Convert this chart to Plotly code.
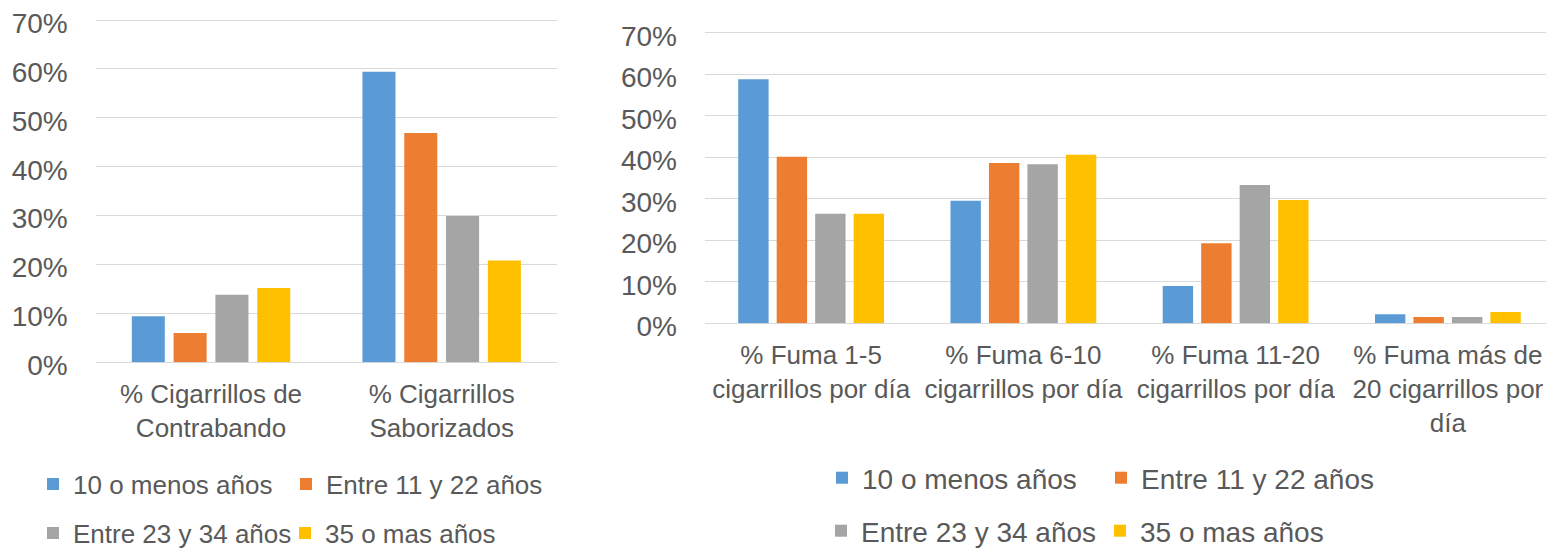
import plotly.graph_objects as go

# ---- data ----
series_names = ["10 o menos años", "Entre 11 y 22 años", "Entre 23 y 34 años", "35 o mas años"]
colors = ["#5B9BD5", "#ED7D31", "#A5A5A5", "#FFC000"]

left_categories = ["% Cigarrillos de<br>Contrabando", "% Cigarrillos<br>Saborizados"]
left_10_menos = [0.094, 0.594]
left_11_22 = [0.060, 0.469]
left_23_34 = [0.138, 0.299]
left_35_mas = [0.152, 0.208]

right_categories = [
    "% Fuma 1-5<br>cigarrillos por día",
    "% Fuma 6-10<br>cigarrillos por día",
    "% Fuma 11-20<br>cigarrillos por día",
    "% Fuma más de<br>20 cigarrillos por<br>día",
]
right_10_menos = [0.588, 0.295, 0.090, 0.022]
right_11_22 = [0.401, 0.386, 0.193, 0.015]
right_23_34 = [0.264, 0.383, 0.333, 0.015]
right_35_mas = [0.264, 0.406, 0.297, 0.027]

left_values = [left_10_menos, left_11_22, left_23_34, left_35_mas]
right_values = [right_10_menos, right_11_22, right_23_34, right_35_mas]

# page body has an 8px margin: figure is drawn 8px right/down of the window origin
OFF = 8
W, H = 1554 - OFF, 553 - OFF
FONT = "Arial, 'Liberation Sans', sans-serif"
TXT = "#595959"
GRID = "#D9D9D9"
YMAX = 0.7
YTOP = 0.704  # slight headroom so the 70% gridline is drawn

def px_x(v):
    return (v - OFF) / W

def px_y(v):
    return (H - (v - OFF)) / H

def y_domain(y0_px, y70_px):
    top_px = y0_px - (y0_px - y70_px) * YTOP / YMAX
    return [px_y(y0_px), px_y(top_px)]

fig = go.Figure()
left_legends = ["legend", "legend2", "legend3", "legend4"]
right_legends = ["legend5", "legend6", "legend7", "legend8"]
for i, name in enumerate(series_names):
    fig.add_trace(go.Bar(x=left_categories, y=left_values[i], name=name,
                         marker=dict(color=colors[i], line=dict(width=0)),
                         xaxis="x", yaxis="y", legend=left_legends[i]))
for i, name in enumerate(series_names):
    fig.add_trace(go.Bar(x=right_categories, y=right_values[i], name=name,
                         marker=dict(color=colors[i], line=dict(width=0)),
                         xaxis="x2", yaxis="y2", legend=right_legends[i]))

yax = dict(range=[0, YTOP], tickvals=[0, 0.1, 0.2, 0.3, 0.4, 0.5, 0.6, 0.7],
           tickformat=".0%", showgrid=True, ticklabeloverflow="allow",
           gridcolor=GRID, gridwidth=1.3, zeroline=True, zerolinecolor=GRID,
           zerolinewidth=1.3, showline=False, ticks="", automargin=False,
           tickfont=dict(family=FONT, size=28, color=TXT), ticklabelstandoff=27,
           ticklabelshift=3)
xax = dict(showline=False, ticks="", showgrid=False, automargin=False,
           ticklabeloverflow="allow",
           tickfont=dict(family=FONT, size=26, color=TXT), ticklabelstandoff=14)

def leg(x, y, size):
    return dict(orientation="h", xanchor="left", yanchor="middle",
                x=px_x(x), y=px_y(y), bgcolor="rgba(0,0,0,0)",
                font=dict(family=FONT, size=size, color=TXT), itemclick=False)

fig.update_layout(
    width=W, height=H,
    margin=dict(l=0, r=0, t=0, b=0, autoexpand=False),
    paper_bgcolor="white", plot_bgcolor="white",
    barmode="group", bargap=0.275, bargroupgap=0.21,
    font=dict(family=FONT, color=TXT),
    xaxis=dict(domain=[px_x(95.7), px_x(557)], anchor="y", **xax),
    yaxis=dict(domain=y_domain(362.3, 20), anchor="x", **yax),
    xaxis2=dict(domain=[px_x(705), 1.0], anchor="y2", **xax),
    yaxis2=dict(domain=y_domain(323.3, 32.7), anchor="x2", **yax),
    legend=leg(33, 484, 26),
    legend2=leg(286, 484, 26),
    legend3=leg(33, 533, 26),
    legend4=leg(285, 533, 26),
    legend5=leg(822, 478, 28),
    legend6=leg(1101, 478, 28),
    legend7=leg(821, 531, 28),
    legend8=leg(1100, 531, 28),
    showlegend=True,
)

fig.write_html("out.html")
